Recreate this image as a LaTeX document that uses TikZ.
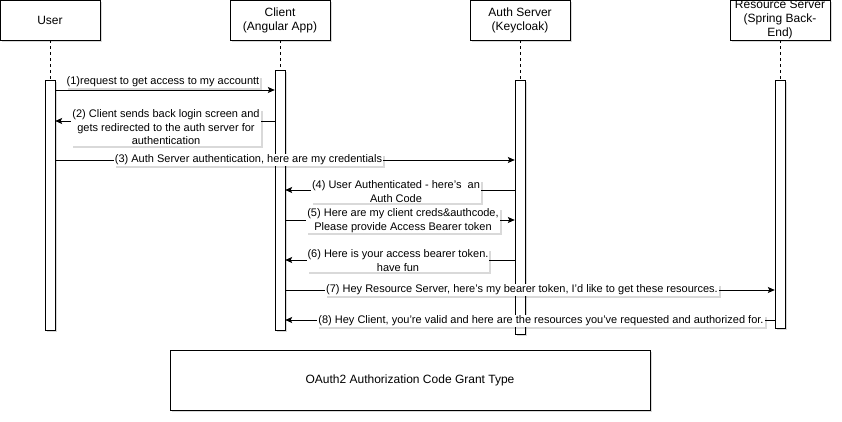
\documentclass[tikz,border=0pt]{standalone}
\usepackage{fontspec}
\setmainfont{Liberation Sans}
\usetikzlibrary{arrows.meta,shadows}
\begin{document}
\begin{tikzpicture}[x=1pt,y=-1pt,
  shd/.style={drop shadow={opacity=0.15,shadow xshift=2pt,shadow yshift=-2pt,fill=black}},
  actor/.style={draw,fill=white,shd,minimum width=100pt,minimum height=40pt,inner sep=0pt,align=center,font=\fontsize{12}{14}\selectfont},
  bar/.style={draw,fill=white,shd,minimum width=10pt,inner sep=0pt},
  life/.style={dash pattern=on 3pt off 3pt},
  msg/.style={-{Stealth[length=7pt,width=6pt,inset=1.5pt]},line width=0.8pt},
  lbl/.style={fill=white,shd,inner sep=1pt,align=center,font=\fontsize{11}{13.5}\selectfont}
]
\useasboundingbox (0,0) rectangle (842,422);
% actors
\node[actor] (u) at (50,20) {User};
\node[actor] (c) at (280,20) {Client\\(Angular App)};
\node[actor] (a) at (520,20) {Auth Server\\(Keycloak)};
\node[actor] (r) at (780,20) {Resource Server\\(Spring Back-\\End)};
% activation bars
\node[bar,minimum height=250pt] (ub) at (50,205) {};
\node[bar,minimum height=260pt] (cb) at (280,200) {};
\node[bar,minimum height=254pt] (ab) at (520,207) {};
\node[bar,minimum height=248pt] (rb) at (780,204) {};
% lifelines
\draw[life] (u.south) -- (ub.north);
\draw[life] (c.south) -- (cb.north);
\draw[life] (a.south) -- (ab.north);
\draw[life] (r.south) -- (rb.north);
% message levels
\coordinate (y1) at (0,90);
\coordinate (y2) at (0,121);
\coordinate (y3) at (0,160);
\coordinate (y4) at (0,190);
\coordinate (y5) at (0,220);
\coordinate (y6) at (0,260);
\coordinate (y7) at (0,290);
\coordinate (y8) at (0,320);
% messages
\draw[msg] (ub.east |- y1) -- (cb.west |- y1);
\draw[msg] (cb.west |- y2) -- (ub.east |- y2);
\draw[msg] (ub.east |- y3) -- (ab.west |- y3);
\draw[msg] (ab.west |- y4) -- (cb.east |- y4);
\draw[msg] (cb.east |- y5) -- (ab.west |- y5);
\draw[msg] (ab.west |- y6) -- (cb.east |- y6);
\draw[msg] (cb.east |- y7) -- (rb.west |- y7);
\draw[msg] (rb.west |- y8) -- (cb.east |- y8);
% labels
\node[lbl] (l1) at (163,82) {(1)request to get access to my accountt};
\node[lbl] (l2) at (166,127.5) {(2) Client sends back login screen and\\gets redirected to the auth server for\\authentication};
\node[lbl] (l3) at (248.5,160) {(3) Auth Server authentication, here are my credentials};
\node[lbl] (l4) at (396,191.5) {(4) User Authenticated - here's\ \ an\\Auth Code};
\node[lbl] (l5) at (403,220.5) {(5) Here are my client creds\&authcode,\\Please provide Access Bearer token};
\node[lbl] (l6) at (398,260.5) {(6) Here is your access bearer token.\\have fun};
\node[lbl] (l7) at (522,290) {(7) Hey Resource Server, here's my bearer token, I'd like to get these resources.};
\node[lbl] (l8) at (541,321) {(8) Hey Client, you're valid and here are the resources you've requested and authorized for.};
% caption box
\node[draw,fill=white,shd,minimum width=480pt,minimum height=60pt,font=\fontsize{12}{14}\selectfont] (t) at (410,380) {OAuth2 Authorization Code Grant Type};
\end{tikzpicture}
\end{document}
